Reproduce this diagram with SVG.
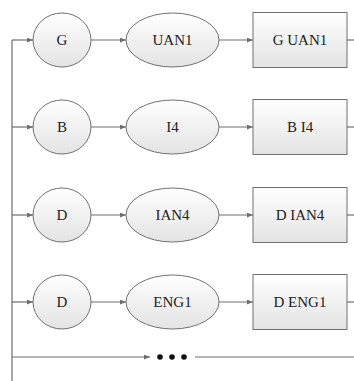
<svg xmlns="http://www.w3.org/2000/svg" width="354" height="381" viewBox="0 0 354 381">
  <defs>
    <linearGradient id="shade" x1="0" y1="0" x2="0" y2="1">
      <stop offset="0" stop-color="#ffffff"/>
      <stop offset="1" stop-color="#e3e3e3"/>
    </linearGradient>
    <marker id="arrow" viewBox="0 0 10 8" refX="10" refY="4" markerWidth="6" markerHeight="5" markerUnits="userSpaceOnUse" orient="auto">
      <path d="M0,0 L10,4 L0,8 Z" fill="#6e6e6e"/>
    </marker>
  </defs>
  <style>
    .shape { fill: url(#shade); stroke: #707070; stroke-width: 1; }
    .line { stroke: #6e6e6e; stroke-width: 1.2; fill: none; }
    .arr { marker-end: url(#arrow); }
    text { font-family: "Liberation Serif", "Times New Roman", serif; font-size: 15px; fill: #222; text-anchor: middle; }
  </style>

  <!-- connectors -->
  <g id="connectors">
    <path class="line" d="M12,40 V381"/>
    <!-- row 1 -->
    <path class="line arr" d="M12,40 H33"/>
    <path class="line arr" d="M91,40 H126"/>
    <path class="line arr" d="M219,40 H253"/>
    <path class="line" d="M347,40 H354"/>
    <!-- row 2 -->
    <path class="line arr" d="M12,127 H33"/>
    <path class="line arr" d="M91,127 H126"/>
    <path class="line arr" d="M219,127 H253"/>
    <path class="line" d="M347,127 H354"/>
    <!-- row 3 -->
    <path class="line arr" d="M12,215 H33"/>
    <path class="line arr" d="M91,215 H126"/>
    <path class="line arr" d="M219,215 H253"/>
    <path class="line" d="M347,215 H354"/>
    <!-- row 4 -->
    <path class="line arr" d="M12,302 H33"/>
    <path class="line arr" d="M91,302 H126"/>
    <path class="line arr" d="M219,302 H253"/>
    <path class="line" d="M347,302 H354"/>
    <!-- continuation row -->
    <path class="line arr" d="M12,357 H150"/>
    <path class="line" d="M195,357 H354"/>
  </g>

  <!-- row 1 -->
  <g id="g1">
    <ellipse class="shape" cx="62" cy="40" rx="29" ry="27"/>
    <text x="62" y="45">G</text>
  </g>
  <g id="uan1">
    <ellipse class="shape" cx="172.5" cy="40" rx="46.5" ry="27"/>
    <text x="172.5" y="45">UAN1</text>
  </g>
  <g id="g-uan1">
    <rect class="shape" x="253" y="12.5" width="94" height="55"/>
    <text x="300" y="45">G UAN1</text>
  </g>

  <!-- row 2 -->
  <g id="b">
    <ellipse class="shape" cx="62" cy="127" rx="29" ry="27"/>
    <text x="62" y="132">B</text>
  </g>
  <g id="i4">
    <ellipse class="shape" cx="172.5" cy="127" rx="46.5" ry="27"/>
    <text x="172.5" y="132">I4</text>
  </g>
  <g id="b-i4">
    <rect class="shape" x="253" y="99.5" width="94" height="55"/>
    <text x="300" y="132">B I4</text>
  </g>

  <!-- row 3 -->
  <g id="d1">
    <ellipse class="shape" cx="62" cy="215" rx="29" ry="27"/>
    <text x="62" y="220">D</text>
  </g>
  <g id="ian4">
    <ellipse class="shape" cx="172.5" cy="215" rx="46.5" ry="27"/>
    <text x="172.5" y="220">IAN4</text>
  </g>
  <g id="d-ian4">
    <rect class="shape" x="253" y="187.5" width="94" height="55"/>
    <text x="300" y="220">D IAN4</text>
  </g>

  <!-- row 4 -->
  <g id="d2">
    <ellipse class="shape" cx="62" cy="302" rx="29" ry="27"/>
    <text x="62" y="307">D</text>
  </g>
  <g id="eng1">
    <ellipse class="shape" cx="172.5" cy="302" rx="46.5" ry="27"/>
    <text x="172.5" y="307">ENG1</text>
  </g>
  <g id="d-eng1">
    <rect class="shape" x="253" y="274.5" width="94" height="55"/>
    <text x="300" y="307">D ENG1</text>
  </g>

  <!-- ellipsis -->
  <g id="more" fill="#111">
    <circle cx="160" cy="357" r="2.8"/>
    <circle cx="172" cy="357" r="2.8"/>
    <circle cx="184" cy="357" r="2.8"/>
  </g>
</svg>
